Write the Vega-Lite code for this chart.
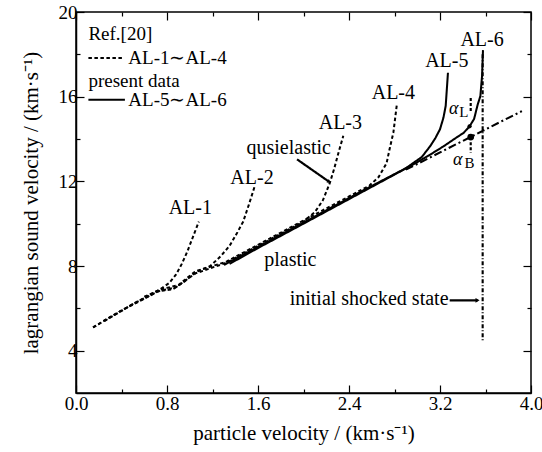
{
  "$schema": "https://vega.github.io/schema/vega-lite/v6.json",
  "width": 455,
  "height": 381,
  "autosize": "none",
  "padding": {"left": 76, "top": 12, "right": 11, "bottom": 59},
  "background": "white",
  "config": {
    "view": {"stroke": "black", "strokeWidth": 1.5},
    "font": "Liberation Serif",
    "text": {"font": "Liberation Serif", "fontSize": 20, "color": "black"},
    "axis": {
      "grid": false,
      "domainColor": "black",
      "domainWidth": 1.5,
      "tickColor": "black",
      "tickWidth": 1.2,
      "labelFont": "Liberation Serif",
      "labelFontSize": 19,
      "labelColor": "black",
      "titleFont": "Liberation Serif",
      "titleFontSize": 21,
      "titleFontWeight": "normal",
      "titleColor": "black"
    }
  },
  "datasets": {
    "curves": [
      {"c": "AL-1", "s": "ref", "o": 1, "x": 0.15, "y": 5.1},
      {"c": "AL-1", "s": "ref", "o": 2, "x": 0.39, "y": 5.87},
      {"c": "AL-1", "s": "ref", "o": 3, "x": 0.6, "y": 6.5},
      {"c": "AL-1", "s": "ref", "o": 4, "x": 0.74, "y": 6.9},
      {"c": "AL-1", "s": "ref", "o": 5, "x": 0.82, "y": 7.2},
      {"c": "AL-1", "s": "ref", "o": 6, "x": 0.88, "y": 7.6},
      {"c": "AL-1", "s": "ref", "o": 7, "x": 0.93, "y": 8.1},
      {"c": "AL-1", "s": "ref", "o": 8, "x": 0.98, "y": 8.7},
      {"c": "AL-1", "s": "ref", "o": 9, "x": 1.03, "y": 9.4},
      {"c": "AL-1", "s": "ref", "o": 10, "x": 1.08, "y": 10.1},

      {"c": "AL-2", "s": "ref", "o": 1, "x": 0.15, "y": 5.1},
      {"c": "AL-2", "s": "ref", "o": 2, "x": 0.39, "y": 5.87},
      {"c": "AL-2", "s": "ref", "o": 3, "x": 0.6, "y": 6.45},
      {"c": "AL-2", "s": "ref", "o": 4, "x": 0.72, "y": 6.8},
      {"c": "AL-2", "s": "ref", "o": 5, "x": 0.85, "y": 6.9},
      {"c": "AL-2", "s": "ref", "o": 6, "x": 0.95, "y": 7.25},
      {"c": "AL-2", "s": "ref", "o": 7, "x": 1.05, "y": 7.7},
      {"c": "AL-2", "s": "ref", "o": 8, "x": 1.18, "y": 8.0},
      {"c": "AL-2", "s": "ref", "o": 9, "x": 1.27, "y": 8.45},
      {"c": "AL-2", "s": "ref", "o": 10, "x": 1.35, "y": 8.95},
      {"c": "AL-2", "s": "ref", "o": 11, "x": 1.42, "y": 9.6},
      {"c": "AL-2", "s": "ref", "o": 12, "x": 1.47, "y": 10.1},
      {"c": "AL-2", "s": "ref", "o": 13, "x": 1.52, "y": 10.9},
      {"c": "AL-2", "s": "ref", "o": 14, "x": 1.57, "y": 11.75},

      {"c": "AL-3", "s": "ref", "o": 1, "x": 0.25, "y": 5.4},
      {"c": "AL-3", "s": "ref", "o": 2, "x": 0.5, "y": 6.2},
      {"c": "AL-3", "s": "ref", "o": 3, "x": 0.72, "y": 6.8},
      {"c": "AL-3", "s": "ref", "o": 4, "x": 0.88, "y": 7.0},
      {"c": "AL-3", "s": "ref", "o": 5, "x": 1.05, "y": 7.65},
      {"c": "AL-3", "s": "ref", "o": 6, "x": 1.32, "y": 8.15},
      {"c": "AL-3", "s": "ref", "o": 7, "x": 1.6, "y": 8.95},
      {"c": "AL-3", "s": "ref", "o": 8, "x": 2.0, "y": 10.1},
      {"c": "AL-3", "s": "ref", "o": 9, "x": 2.1, "y": 10.55},
      {"c": "AL-3", "s": "ref", "o": 10, "x": 2.17, "y": 11.1},
      {"c": "AL-3", "s": "ref", "o": 11, "x": 2.23, "y": 11.9},
      {"c": "AL-3", "s": "ref", "o": 12, "x": 2.27, "y": 12.6},
      {"c": "AL-3", "s": "ref", "o": 13, "x": 2.31, "y": 13.4},
      {"c": "AL-3", "s": "ref", "o": 14, "x": 2.35, "y": 14.15},

      {"c": "AL-4", "s": "ref", "o": 1, "x": 0.6, "y": 6.55},
      {"c": "AL-4", "s": "ref", "o": 2, "x": 0.75, "y": 6.9},
      {"c": "AL-4", "s": "ref", "o": 3, "x": 0.9, "y": 7.1},
      {"c": "AL-4", "s": "ref", "o": 4, "x": 1.05, "y": 7.75},
      {"c": "AL-4", "s": "ref", "o": 5, "x": 1.32, "y": 8.2},
      {"c": "AL-4", "s": "ref", "o": 6, "x": 1.6, "y": 9.0},
      {"c": "AL-4", "s": "ref", "o": 7, "x": 2.0, "y": 10.15},
      {"c": "AL-4", "s": "ref", "o": 8, "x": 2.3, "y": 11.0},
      {"c": "AL-4", "s": "ref", "o": 9, "x": 2.58, "y": 11.8},
      {"c": "AL-4", "s": "ref", "o": 10, "x": 2.66, "y": 12.2},
      {"c": "AL-4", "s": "ref", "o": 11, "x": 2.73, "y": 12.85},
      {"c": "AL-4", "s": "ref", "o": 12, "x": 2.76, "y": 13.6},
      {"c": "AL-4", "s": "ref", "o": 13, "x": 2.79, "y": 14.3},
      {"c": "AL-4", "s": "ref", "o": 14, "x": 2.82, "y": 15.6},

      {"c": "AL-5", "s": "present", "o": 1, "x": 1.3, "y": 8.05},
      {"c": "AL-5", "s": "present", "o": 2, "x": 1.6, "y": 8.9},
      {"c": "AL-5", "s": "present", "o": 3, "x": 2.0, "y": 10.05},
      {"c": "AL-5", "s": "present", "o": 4, "x": 2.5, "y": 11.5},
      {"c": "AL-5", "s": "present", "o": 5, "x": 2.9, "y": 12.62},
      {"c": "AL-5", "s": "present", "o": 6, "x": 3.04, "y": 13.15},
      {"c": "AL-5", "s": "present", "o": 7, "x": 3.115, "y": 13.67},
      {"c": "AL-5", "s": "present", "o": 8, "x": 3.16, "y": 14.05},
      {"c": "AL-5", "s": "present", "o": 9, "x": 3.2, "y": 14.46},
      {"c": "AL-5", "s": "present", "o": 10, "x": 3.23, "y": 15.0},
      {"c": "AL-5", "s": "present", "o": 11, "x": 3.25, "y": 15.56},
      {"c": "AL-5", "s": "present", "o": 12, "x": 3.27, "y": 17.13},

      {"c": "AL-6", "s": "present", "o": 1, "x": 1.35, "y": 8.1},
      {"c": "AL-6", "s": "present", "o": 2, "x": 1.6, "y": 8.85},
      {"c": "AL-6", "s": "present", "o": 3, "x": 2.0, "y": 10.0},
      {"c": "AL-6", "s": "present", "o": 4, "x": 2.5, "y": 11.45},
      {"c": "AL-6", "s": "present", "o": 5, "x": 3.0, "y": 12.9},
      {"c": "AL-6", "s": "present", "o": 6, "x": 3.14, "y": 13.35},
      {"c": "AL-6", "s": "present", "o": 7, "x": 3.23, "y": 13.65},
      {"c": "AL-6", "s": "present", "o": 8, "x": 3.32, "y": 13.98},
      {"c": "AL-6", "s": "present", "o": 9, "x": 3.41, "y": 14.3},
      {"c": "AL-6", "s": "present", "o": 10, "x": 3.46, "y": 14.6},
      {"c": "AL-6", "s": "present", "o": 11, "x": 3.5, "y": 14.95},
      {"c": "AL-6", "s": "present", "o": 12, "x": 3.53, "y": 15.6},
      {"c": "AL-6", "s": "present", "o": 13, "x": 3.555, "y": 16.03},
      {"c": "AL-6", "s": "present", "o": 14, "x": 3.57, "y": 17.0},
      {"c": "AL-6", "s": "present", "o": 15, "x": 3.578, "y": 18.2},

      {"c": "fit", "s": "fit", "o": 1, "x": 2.9, "y": 12.55},
      {"c": "fit", "s": "fit", "o": 2, "x": 3.92, "y": 15.32},

      {"c": "initial", "s": "initial", "o": 1, "x": 3.575, "y": 18.0},
      {"c": "initial", "s": "initial", "o": 2, "x": 3.575, "y": 4.43},

      {"c": "aL", "s": "marker", "o": 1, "x": 3.47, "y": 15.94},
      {"c": "aL", "s": "marker", "o": 2, "x": 3.47, "y": 15.3},
      {"c": "aB", "s": "marker", "o": 1, "x": 3.47, "y": 13.85},
      {"c": "aB", "s": "marker", "o": 2, "x": 3.47, "y": 13.35},

      {"c": "arrow1", "s": "arrow", "o": 1, "x": 1.943, "y": 13.04},
      {"c": "arrow1", "s": "arrow", "o": 2, "x": 2.225, "y": 11.98},
      {"c": "arrow2", "s": "arrow", "o": 1, "x": 3.285, "y": 6.38},
      {"c": "arrow2", "s": "arrow", "o": 2, "x": 3.53, "y": 6.38},

      {"c": "legRef", "s": "ref", "o": 1, "x": 0.109, "y": 17.83},
      {"c": "legRef", "s": "ref", "o": 2, "x": 0.416, "y": 17.83},
      {"c": "legPresent", "s": "present", "o": 1, "x": 0.109, "y": 15.85},
      {"c": "legPresent", "s": "present", "o": 2, "x": 0.43, "y": 15.85}
    ],
    "labels": [
      {"t": "AL-1", "x": 1.005, "y": 10.76},
      {"t": "AL-2", "x": 1.547, "y": 12.18},
      {"t": "AL-3", "x": 2.324, "y": 14.77},
      {"t": "AL-4", "x": 2.79, "y": 16.19},
      {"t": "AL-5", "x": 3.26, "y": 17.68},
      {"t": "AL-6", "x": 3.57, "y": 18.7},
      {"t": "qusielastic", "x": 1.87, "y": 13.59},
      {"t": "plastic", "x": 1.884, "y": 8.3}
    ],
    "leftLabels": [
      {"t": "Ref.[20]", "x": 0.109, "y": 18.94},
      {"t": "AL-1∼AL-4", "x": 0.46, "y": 17.83},
      {"t": "present data", "x": 0.109, "y": 16.72},
      {"t": "AL-5∼AL-6", "x": 0.46, "y": 15.82}
    ],
    "rightLabels": [
      {"t": "initial shocked state", "x": 3.275, "y": 6.42}
    ],
    "alphas": [
      {"t": "α", "x": 3.32, "y": 15.4},
      {"t": "α", "x": 3.355, "y": 13.02}
    ],
    "subs": [
      {"t": "L", "x": 3.41, "y": 15.28},
      {"t": "B", "x": 3.46, "y": 12.88}
    ],
    "dots": [
      {"k": "aB", "x": 3.47, "y": 14.09},
      {"k": "aL", "x": 3.46, "y": 14.6}
    ],
    "heads": [
      {"k": "h2", "x": 3.53, "y": 6.38}
    ],
    "heads2": [
      {"k": "h1", "x": 2.225, "y": 11.98}
    ]
  },
  "resolve": {"axis": {"x": "independent", "y": "independent"}},
  "layer": [
    {
      "data": {"name": "curves"},
      "mark": {"type": "line", "color": "black", "strokeCap": "butt"},
      "encoding": {
        "x": {
          "field": "x", "type": "quantitative",
          "scale": {"domain": [0, 4], "nice": false, "zero": false},
          "axis": {
            "orient": "bottom",
            "values": [0, 0.4, 0.8, 1.2, 1.6, 2.0, 2.4, 2.8, 3.2, 3.6, 4.0],
            "labelExpr": "round(datum.value*10) % 8 == 0 ? format(datum.value, '.1f') : ''",
            "tickSize": {"condition": {"test": "round(datum.value*10) % 8 == 0", "value": -8}, "value": -4},
            "labelPadding": 9,
            "labelFlush": false,
            "title": "particle velocity / (km·s⁻¹)",
            "titlePadding": 9
          }
        },
        "y": {
          "field": "y", "type": "quantitative",
          "scale": {"domain": [2, 20], "nice": false, "zero": false},
          "axis": {
            "orient": "left",
            "values": [4, 6, 8, 10, 12, 14, 16, 18, 20],
            "labelExpr": "datum.value % 4 == 0 ? format(datum.value, 'd') : ''",
            "tickSize": {"condition": {"test": "datum.value % 4 == 0", "value": -8}, "value": -4},
            "labelPadding": 7,
            "labelFlush": false,
            "title": "lagrangian sound velocity / (km·s⁻¹)",
            "titlePadding": 17
          }
        },
        "detail": {"field": "c"},
        "order": {"field": "o", "type": "quantitative"},
        "strokeDash": {
          "field": "s", "type": "nominal", "legend": null,
          "scale": {
            "domain": ["ref", "present", "fit", "initial", "marker", "arrow"],
            "range": [[3.5, 2.5], [1, 0], [8, 3, 2, 3], [4, 2, 1, 2], [3, 2], [1, 0]]
          }
        },
        "strokeWidth": {
          "field": "s", "type": "nominal", "legend": null,
          "scale": {
            "domain": ["ref", "present", "fit", "initial", "marker", "arrow"],
            "range": [2, 2.2, 1.8, 1, 1, 1.2]
          }
        }
      }
    },
    {
      "data": {"name": "dots"},
      "mark": {"type": "point", "filled": true, "color": "black", "opacity": 1, "shape": "circle"},
      "encoding": {
        "x": {
          "field": "x", "type": "quantitative",
          "scale": {"domain": [0, 4], "nice": false, "zero": false},
          "axis": {
            "orient": "top",
            "values": [0, 0.4, 0.8, 1.2, 1.6, 2.0, 2.4, 2.8, 3.2, 3.6, 4.0],
            "labels": false,
            "domain": false,
            "tickSize": {"condition": {"test": "round(datum.value*10) % 8 == 0", "value": -8}, "value": -4},
            "title": null
          }
        },
        "y": {
          "field": "y", "type": "quantitative",
          "scale": {"domain": [2, 20], "nice": false, "zero": false},
          "axis": {
            "orient": "right",
            "values": [4, 6, 8, 10, 12, 14, 16, 18, 20],
            "labels": false,
            "domain": false,
            "tickSize": {"condition": {"test": "datum.value % 4 == 0", "value": -8}, "value": -4},
            "title": null
          }
        },
        "size": {"field": "k", "type": "nominal", "legend": null, "scale": {"domain": ["aB", "aL"], "range": [45, 18]}}
      }
    },
    {
      "data": {"name": "heads"},
      "mark": {"type": "point", "filled": true, "color": "black", "opacity": 1, "shape": "triangle-right", "size": 22},
      "encoding": {
        "x": {"field": "x", "type": "quantitative", "scale": {"domain": [0, 4]}, "axis": null},
        "y": {"field": "y", "type": "quantitative", "scale": {"domain": [2, 20]}, "axis": null}
      }
    },
    {
      "data": {"name": "heads2"},
      "mark": {"type": "point", "filled": true, "color": "black", "opacity": 1, "shape": "triangle-right", "size": 16, "angle": 35},
      "encoding": {
        "x": {"field": "x", "type": "quantitative", "scale": {"domain": [0, 4]}, "axis": null},
        "y": {"field": "y", "type": "quantitative", "scale": {"domain": [2, 20]}, "axis": null}
      }
    },
    {
      "data": {"name": "labels"},
      "mark": {"type": "text", "align": "center", "baseline": "middle"},
      "encoding": {
        "x": {"field": "x", "type": "quantitative", "axis": null},
        "y": {"field": "y", "type": "quantitative", "axis": null},
        "text": {"field": "t"}
      }
    },
    {
      "data": {"name": "leftLabels"},
      "mark": {"type": "text", "align": "left", "baseline": "middle", "fontSize": 19},
      "encoding": {
        "x": {"field": "x", "type": "quantitative", "axis": null},
        "y": {"field": "y", "type": "quantitative", "axis": null},
        "text": {"field": "t"}
      }
    },
    {
      "data": {"name": "rightLabels"},
      "mark": {"type": "text", "align": "right", "baseline": "middle"},
      "encoding": {
        "x": {"field": "x", "type": "quantitative", "axis": null},
        "y": {"field": "y", "type": "quantitative", "axis": null},
        "text": {"field": "t"}
      }
    },
    {
      "data": {"name": "alphas"},
      "mark": {"type": "text", "align": "center", "baseline": "middle", "fontSize": 18, "fontStyle": "italic"},
      "encoding": {
        "x": {"field": "x", "type": "quantitative", "axis": null},
        "y": {"field": "y", "type": "quantitative", "axis": null},
        "text": {"field": "t"}
      }
    },
    {
      "data": {"name": "subs"},
      "mark": {"type": "text", "align": "center", "baseline": "middle", "fontSize": 15},
      "encoding": {
        "x": {"field": "x", "type": "quantitative", "axis": null},
        "y": {"field": "y", "type": "quantitative", "axis": null},
        "text": {"field": "t"}
      }
    }
  ]
}
